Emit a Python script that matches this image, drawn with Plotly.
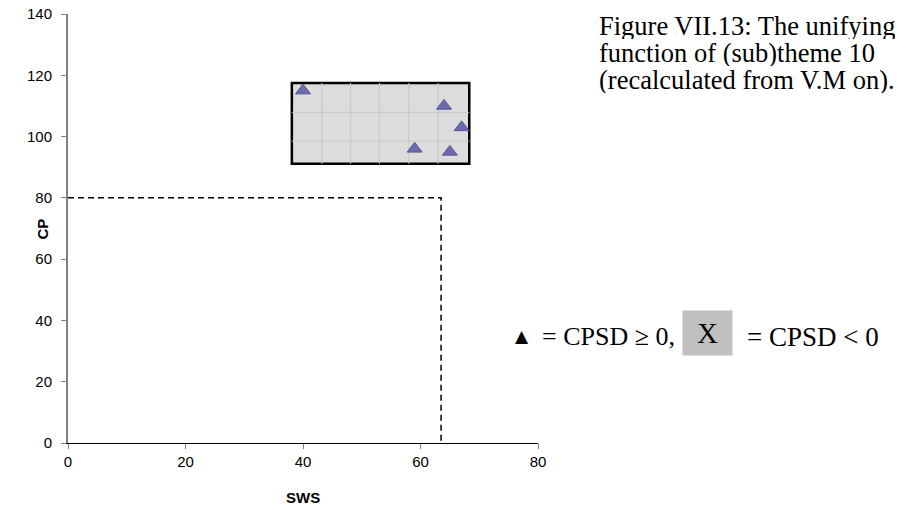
import plotly.graph_objects as go

# data
sws = [40, 64, 67, 59, 65]
cp = [115, 110, 103, 96, 95]

# dashed limit lines
sws_limit = 63.5
cp_limit = 80

# shaded cluster box and its inner grid
box_x = [38.1, 68.3]
box_y = [91.1, 117.5]
box_grid_x = [43.2, 48.1, 53.0, 58.0, 63.0]
box_grid_y = [98.5, 107.9]

x_ticks = [0, 20, 40, 60, 80]
y_ticks = [0, 20, 40, 60, 80, 100, 120, 140]

caption_lines = [
    "Figure VII.13: The unifying",
    "function of (sub)theme 10",
    "(recalculated from V.M on).",
]

fig = go.Figure()

# box behind the markers
fig.add_shape(type="rect", x0=box_x[0], x1=box_x[1], y0=box_y[0], y1=box_y[1],
              fillcolor="#dcdcdc", line=dict(color="black", width=2.5), layer="below")
for gx in box_grid_x:
    fig.add_shape(type="line", x0=gx, x1=gx, y0=box_y[0], y1=box_y[1],
                  line=dict(color="#c6c6c6", width=1), layer="below")
for gy in box_grid_y:
    fig.add_shape(type="line", x0=box_x[0], x1=box_x[1], y0=gy, y1=gy,
                  line=dict(color="#c6c6c6", width=1), layer="below")

# dashed L-shaped limit
fig.add_trace(go.Scatter(
    x=[0, sws_limit, sws_limit],
    y=[cp_limit, cp_limit, 0],
    mode="lines",
    line=dict(color="black", width=1.5, dash="6px,4px"),
    showlegend=False,
    hoverinfo="skip"
))

fig.add_trace(go.Scatter(
    x=sws, y=cp,
    mode="markers",
    marker=dict(symbol="triangle-up", size=13, color="#6b6bae",
                line=dict(color="#55559a", width=1)),
    showlegend=False
))

fig.update_layout(
    width=908, height=510,
    margin=dict(l=68, r=370, t=14, b=67),
    paper_bgcolor="white",
    plot_bgcolor="white",
    font=dict(family="Liberation Sans, Arial", size=15, color="black"),
    xaxis=dict(
        range=[0, 80], tickvals=x_ticks, showgrid=False, zeroline=False,
        showline=True, linecolor="black", linewidth=1,
        ticks="outside", ticklen=5, tickcolor="#808080", automargin=False,
        ticklabeloverflow="allow"
    ),
    yaxis=dict(
        range=[0, 140], tickvals=y_ticks, showgrid=False, zeroline=False,
        showline=True, linecolor="#808080", linewidth=2,
        ticks="outside", ticklen=5, tickcolor="#808080", automargin=False,
        ticklabelstandoff=6, ticklabeloverflow="allow"
    )
)

# axis titles
fig.add_annotation(text="<b>SWS</b>", xref="paper", yref="paper", x=0.5, y=-0.126,
                   xanchor="center", yanchor="middle", showarrow=False,
                   font=dict(size=15))
fig.add_annotation(text="<b>CP</b>", xref="paper", yref="paper", x=-0.0532, y=0.50,
                   xanchor="center", yanchor="middle", showarrow=False, textangle=-90,
                   font=dict(size=15))

serif = "Liberation Serif, Times New Roman, serif"

# caption in the top right, one annotation per line for tight spacing
for i, line in enumerate(caption_lines):
    fig.add_annotation(
        text=line,
        xref="paper", yref="paper", x=(597 - 68) / 470, y=1.0 - (12 + 27 * i) / 429,
        xanchor="left", yanchor="middle", align="left", showarrow=False,
        height=26, font=dict(family=serif, size=26.5, color="black")
    )

# symbol key
fig.add_annotation(
    text="\u25b2",
    xref="paper", yref="y", x=(522 - 68) / 470, y=35, xanchor="center", yanchor="middle",
    showarrow=False, font=dict(family="DejaVu Sans", size=17, color="black")
)
fig.add_annotation(
    text="= CPSD \u2265 0,",
    xref="paper", yref="y", x=(540 - 68) / 470, y=34.6, xanchor="left", yanchor="middle",
    showarrow=False, font=dict(family=serif, size=26, color="black")
)
fig.add_annotation(
    text="X",
    xref="paper", yref="y", x=(707 - 68) / 470, y=35.9, xanchor="center", yanchor="middle",
    showarrow=False, bgcolor="#c0c0c0", width=47, height=42,
    font=dict(family=serif, size=29, color="black")
)
fig.add_annotation(
    text="= CPSD < 0",
    xref="paper", yref="y", x=(745 - 68) / 470, y=34.6, xanchor="left", yanchor="middle",
    showarrow=False,
    font=dict(family=serif, size=27, color="black")
)

# drop the default page margin so the figure fills the window exactly
fig.write_html("out.html", config={"displayModeBar": False},
               post_script="document.body.style.margin = '0';")
